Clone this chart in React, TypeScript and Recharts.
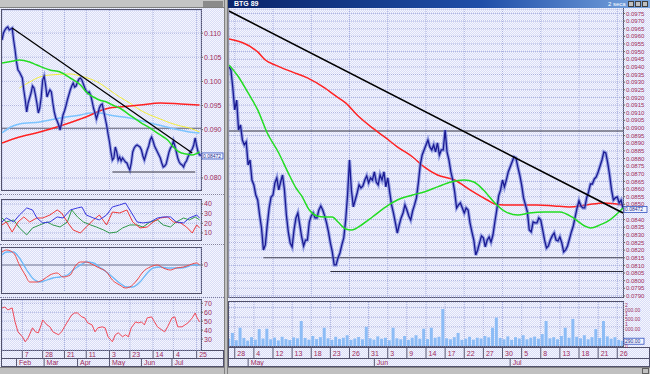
import React from 'react';
import { ComposedChart, Line, Bar, XAxis, YAxis, CartesianGrid, ReferenceLine } from 'recharts';

const FONT = '"Liberation Sans", Arial, sans-serif';
const LBL = '#a02c5c';
const GRID = '#a9b0de';
const NAVY = '#1a1a92';
const HALO = '#6f7dd8';
const RED = '#ff2222';
const GREEN = '#22dd22';
const FRAME = '#50506a';

// ---------- LEFT WINDOW (daily, Feb-Jul) ----------
const leftDateTicks = [14, 28, 43, 58, 74, 88, 104, 118, 134];
const leftDateLabels = ['7', '28', '21', '11', '3', '23', '14', '4', '25'];
const leftMonthTicks = [10, 29, 52, 74, 96, 117];
const leftMonthLabels = ['Feb', 'Mar', 'Apr', 'May', 'Jun', 'Jul'];
const leftPriceTicks = [0.08, 0.09, 0.095, 0.1, 0.105, 0.11];

const leftClose = [
  0.10858, 0.11003, 0.11066, 0.11107, 0.11128, 0.11066, 0.11086, 0.11107, 0.10858, 0.10651,
  0.10402, 0.10237, 0.10195, 0.10133, 0.10071, 0.09822, 0.09615, 0.09366, 0.09553, 0.09657,
  0.0976, 0.09905, 0.09864, 0.09719, 0.09553, 0.09346, 0.09449, 0.09677, 0.10029, 0.10112,
  0.09926, 0.09677, 0.0976, 0.09822, 0.09781, 0.09553, 0.09366, 0.09242, 0.0918, 0.09097,
  0.08993, 0.09138, 0.09304, 0.09387, 0.09491, 0.09615, 0.09719, 0.09822, 0.09905, 0.09967,
  0.09884, 0.09905, 0.09988, 0.1005, 0.10071, 0.10029, 0.09947, 0.09864, 0.09802, 0.0976,
  0.09781, 0.09719, 0.09594, 0.09449, 0.09346, 0.09221, 0.09325, 0.09449, 0.09511, 0.09532,
  0.09387, 0.09242, 0.09097, 0.08911, 0.08745, 0.08538, 0.08372, 0.08413, 0.08641, 0.08538,
  0.08372, 0.08434, 0.08351, 0.08413, 0.08372, 0.0833, 0.0831, 0.08227, 0.08165, 0.0831,
  0.08538, 0.0862, 0.08662, 0.08683, 0.08662, 0.08641, 0.08579, 0.08455, 0.08372, 0.08475,
  0.08579, 0.08662, 0.08786, 0.08848, 0.08765, 0.08662, 0.086, 0.08538, 0.08475, 0.08413,
  0.0831, 0.08227, 0.08247, 0.08289, 0.08413, 0.08538, 0.0862, 0.08662, 0.08765, 0.08662,
  0.08538, 0.08413, 0.0833, 0.08289, 0.08268, 0.08227, 0.0831, 0.08351, 0.08434, 0.08496,
  0.08558, 0.086, 0.08683, 0.08828, 0.08662, 0.08538, 0.08475, 0.08472,
];
const leftGreen: [number, number][] = [
  [0, 0.10382], [8, 0.10423], [12, 0.10444], [19, 0.10402], [24, 0.1034], [33, 0.10237], [40, 0.10195],
  [47, 0.10071], [54, 0.09926], [58, 0.09781], [63, 0.09677], [67, 0.09615], [72, 0.09574], [76, 0.09511],
  [81, 0.09449], [88, 0.09304], [95, 0.09159], [104, 0.08993], [109, 0.0889], [114, 0.08786], [118, 0.08641],
  [122, 0.08538], [127, 0.08496], [131, 0.08475], [136, 0.08538],
];
const leftRed: [number, number][] = [
  [0, 0.08724], [12, 0.08848], [26, 0.08952], [40, 0.09076], [54, 0.09221], [61, 0.09304], [67, 0.09387],
  [74, 0.09449], [81, 0.0947], [95, 0.09511], [109, 0.09553], [123, 0.09532], [136, 0.09511],
];
const leftSky: [number, number][] = [
  [0, 0.08931], [6, 0.09056], [12, 0.09118], [26, 0.09159], [40, 0.09242], [54, 0.09304], [61, 0.09346],
  [67, 0.09346], [74, 0.09304], [88, 0.09242], [102, 0.09138], [116, 0.09035], [129, 0.08952], [136, 0.08931],
];
const leftYellow: [number, number][] = [
  [12, 0.09864], [19, 0.09988], [26, 0.10092], [33, 0.10133], [47, 0.10154], [54, 0.10112], [61, 0.1005],
  [67, 0.09967], [74, 0.09822], [81, 0.09677], [88, 0.09553], [95, 0.09408], [102, 0.09304], [109, 0.09221],
  [116, 0.09138], [123, 0.09076], [129, 0.09035], [136, 0.08952],
];
const leftTrend: [number, number][] = [[7, 0.11107], [131, 0.08517]];
const leftSupport: [number, number][] = [[76, 0.08123], [133, 0.08123]];
const leftLevel = 0.0903;

const dmiBlue: [number, number][] = [
  [0, 21.4], [3, 25.5], [8, 21.4], [12, 28.6], [17, 35.9], [21, 33.8], [24, 25.5], [28, 20.4], [33, 21.4],
  [38, 26.6], [42, 25.5], [47, 33.8], [52, 35.9], [55, 36.9], [58, 28.6], [63, 25.5], [67, 23.5], [72, 28.6],
  [76, 36.9], [81, 39.0], [85, 41.0], [88, 33.8], [93, 21.4], [97, 20.4], [102, 21.4], [107, 25.5], [111, 26.6],
  [116, 26.6], [120, 21.4], [125, 20.4], [129, 25.5], [134, 28.6], [136, 25.5],
];
const dmiRed: [number, number][] = [
  [0, 18.3], [3, 21.4], [7, 11.0], [11, 21.4], [15, 26.6], [19, 21.4], [24, 25.5], [28, 25.5], [33, 28.6],
  [38, 33.8], [41, 30.7], [45, 21.4], [49, 13.1], [54, 10.0], [58, 16.2], [63, 23.5], [67, 28.6], [72, 18.3],
  [76, 31.7], [81, 30.7], [86, 33.8], [90, 21.4], [95, 15.2], [100, 16.2], [104, 21.4], [109, 25.5], [114, 26.6],
  [118, 21.4], [123, 20.4], [127, 16.2], [131, 10.0], [134, 18.3], [136, 15.2],
];
const dmiGreen: [number, number][] = [
  [0, 25.5], [3, 21.4], [8, 23.5], [12, 15.2], [17, 8.0], [21, 15.2], [26, 18.3], [31, 21.4], [35, 18.3],
  [40, 16.2], [45, 21.4], [48, 33.8], [52, 26.6], [56, 21.4], [61, 18.3], [65, 16.2], [70, 13.1], [74, 10.0],
  [79, 11.0], [83, 15.2], [88, 18.3], [93, 18.3], [97, 16.2], [102, 21.4], [107, 23.5], [111, 18.3], [116, 16.2],
  [120, 21.4], [125, 25.5], [129, 23.5], [133, 26.6], [136, 23.5],
];
const dmiTicks = [10, 20, 30, 40];

const macdLine: [number, number][] = [
  [0, 0.0013], [3, 0.0015], [8, 0.0012], [12, 0], [16, -0.001], [19, -0.0017], [24, -0.0017], [28, -0.0015],
  [33, -0.001], [38, -0.0008], [42, -0.0012], [47, -0.001], [50, -0.0002], [54, 0.0003], [58, 0.0003], [63, 0],
  [67, -0.0003], [72, -0.0007], [76, -0.0015], [81, -0.002], [85, -0.0023], [88, -0.0022], [93, -0.0015],
  [97, -0.0007], [102, -0.0002], [107, 0], [111, -0.0003], [116, -0.0005], [120, -0.0003], [125, -0.0002],
  [129, 0], [134, 0.0002], [136, 0],
];
const macdSignal: [number, number][] = [
  [0, 0.001], [3, 0.0013], [8, 0.0013], [12, 0.0007], [17, -0.0005], [21, -0.0013], [26, -0.0017], [31, -0.0015],
  [35, -0.0013], [40, -0.0012], [45, -0.001], [49, -0.0005], [54, 0], [58, 0.0003], [63, 0.0002], [67, -0.0002],
  [72, -0.0007], [76, -0.0012], [81, -0.0018], [86, -0.0022], [90, -0.0022], [95, -0.0017], [100, -0.0008],
  [104, -0.0003], [109, -0.0002], [114, -0.0003], [118, -0.0003], [123, -0.0003], [127, -0.0002], [131, 0], [136, 0],
];

const rsiLine: [number, number][] = [
  [0, 64.8], [2, 65.9], [4, 62.6], [7, 64.8], [9, 49.2], [11, 38.1], [14, 32.6], [16, 27.0], [18, 31.4],
  [21, 42.6], [23, 38.1], [25, 37.0], [27, 45.9], [28, 51.4], [31, 45.9], [33, 43.7], [35, 38.1], [39, 34.8],
  [41, 38.1], [43, 43.7], [45, 49.2], [48, 57.0], [50, 59.2], [52, 59.2], [55, 54.8], [57, 53.7], [59, 48.1],
  [62, 45.9], [64, 38.1], [66, 42.6], [69, 43.7], [71, 42.6], [73, 32.6], [76, 27.0], [78, 34.8], [80, 37.0],
  [83, 32.6], [85, 34.8], [87, 32.6], [89, 42.6], [92, 49.2], [94, 48.1], [96, 49.2], [98, 45.9], [100, 53.7],
  [103, 54.8], [105, 49.2], [107, 43.7], [110, 40.3], [112, 38.1], [114, 43.7], [117, 53.7], [119, 54.8],
  [121, 43.7], [124, 43.7], [126, 45.9], [128, 48.1], [131, 53.7], [133, 59.2], [134, 54.8], [136, 49.2],
];
const rsiTicks = [30, 40, 50, 60, 70];

// ---------- RIGHT WINDOW (intraday, Apr 28 - Jul 26) ----------
const rightDateTicks = [3, 13, 23, 33, 43, 53, 63, 73, 83, 93, 103, 113, 123, 133, 143, 153, 163, 173, 183, 193, 203];
const rightDateLabels = ['28', '4', '12', '13', '18', '23', '26', '31', '3', '9', '14', '17', '22', '27', '30', '5', '8', '13', '18', '21', '26'];
const rightMonthTicks = [10, 76, 147];
const rightMonthLabels = ['May', 'Jun', 'Jul'];
const rightPriceTicks = [
  0.079, 0.0795, 0.08, 0.0805, 0.081, 0.0815, 0.082, 0.0825, 0.083, 0.0835, 0.084, 0.085, 0.0855,
  0.086, 0.0865, 0.087, 0.0875, 0.088, 0.0885, 0.089, 0.0895, 0.09, 0.0905, 0.091, 0.0915, 0.092, 0.0925,
  0.093, 0.0935, 0.094, 0.0945, 0.095, 0.0955, 0.096, 0.0965, 0.097, 0.0975,
];

const rightClose = [
  0.094, 0.0938, 0.09262, 0.09118, 0.09183, 0.08987, 0.0902, 0.08921, 0.08889, 0.08908,
  0.08758, 0.0879, 0.08659, 0.08627, 0.08561, 0.08528, 0.0843, 0.08345, 0.08201, 0.08234,
  0.08365, 0.08476, 0.08548, 0.08561, 0.0864, 0.08673, 0.08594, 0.08646, 0.08692, 0.08594,
  0.0843, 0.08319, 0.08247, 0.08221, 0.08332, 0.08411, 0.08443, 0.08365, 0.08286, 0.08227,
  0.08266, 0.08266, 0.08384, 0.08424, 0.08443, 0.08411, 0.08411, 0.08463, 0.08489, 0.08463,
  0.08424, 0.08378, 0.08319, 0.08247, 0.08188, 0.08103, 0.08103, 0.08149, 0.08181, 0.08234,
  0.0828, 0.08397, 0.08561, 0.0879, 0.08594, 0.08483, 0.08528, 0.08574, 0.08627, 0.08607,
  0.0862, 0.08659, 0.08686, 0.0864, 0.08673, 0.08659, 0.08712, 0.08646, 0.08627, 0.08692,
  0.08659, 0.08712, 0.08614, 0.08673, 0.08581, 0.08496, 0.08443, 0.08378, 0.08312, 0.08365,
  0.08411, 0.08443, 0.08496, 0.08463, 0.08424, 0.08397, 0.08456, 0.08496, 0.08542, 0.0864,
  0.08758, 0.08823, 0.08856, 0.08889, 0.08921, 0.08876, 0.08856, 0.08889, 0.08843, 0.08902,
  0.08823, 0.08856, 0.08856, 0.08987, 0.08843, 0.0879, 0.08712, 0.08659, 0.08581, 0.08476,
  0.08496, 0.08509, 0.08476, 0.08443, 0.08476, 0.08463, 0.08378, 0.08319, 0.08266, 0.08168,
  0.08201, 0.08247, 0.08293, 0.0828, 0.08221, 0.08266, 0.08286, 0.08253, 0.08299, 0.08384,
  0.08463, 0.08555, 0.08594, 0.08659, 0.08614, 0.08659, 0.08712, 0.08745, 0.08777, 0.0881,
  0.08804, 0.08745, 0.08692, 0.08627, 0.08542, 0.08496, 0.0845, 0.08332, 0.08319, 0.08384,
  0.08378, 0.08378, 0.08411, 0.08397, 0.08332, 0.08266, 0.08214, 0.08227, 0.08266, 0.08293,
  0.08312, 0.08266, 0.0826, 0.08286, 0.08247, 0.08188, 0.08201, 0.08227, 0.08273, 0.08319,
  0.08358, 0.08417, 0.08476, 0.08522, 0.08489, 0.08476, 0.08476, 0.08542, 0.08581, 0.08633,
  0.08633, 0.08666, 0.08679, 0.08712, 0.08751, 0.0879, 0.08843, 0.08836, 0.08771, 0.08692,
  0.08594, 0.08528, 0.08542, 0.08548, 0.08509, 0.08528, 0.08472,
];
const rightRed: [number, number][] = [
  [0, 0.09583], [15, 0.09498], [19, 0.09445], [24, 0.09413], [33, 0.09367], [41, 0.09328], [50, 0.09262],
  [55, 0.09216], [61, 0.09164], [67, 0.09085], [75, 0.09], [82, 0.08935], [88, 0.08876], [96, 0.0881],
  [102, 0.08745], [109, 0.08692], [118, 0.08659], [126, 0.08594], [135, 0.08528], [139, 0.08502],
  [144, 0.08496], [152, 0.08496], [161, 0.08496], [170, 0.08489], [178, 0.08483], [187, 0.08496],
  [196, 0.08509], [206, 0.08496],
];
const rightGreen: [number, number][] = [
  [0, 0.09413], [5, 0.09334], [10, 0.09229], [15, 0.09118], [20, 0.08967], [26, 0.08836], [31, 0.08705],
  [35, 0.08607], [38, 0.08555], [42, 0.08463], [46, 0.08424], [50, 0.08417], [54, 0.08417], [57, 0.08384],
  [61, 0.08338], [64, 0.08332], [70, 0.08371], [75, 0.08417], [82, 0.08483], [88, 0.08528], [96, 0.08561],
  [102, 0.08581], [109, 0.08614], [116, 0.08646], [123, 0.08659], [128, 0.08646], [133, 0.08594],
  [139, 0.08509], [144, 0.08456], [151, 0.0843], [157, 0.08443], [165, 0.0845], [173, 0.0845], [180, 0.08411],
  [186, 0.08358], [189, 0.08345], [194, 0.08365], [199, 0.08397], [206, 0.08476],
];
const rightTrend: [number, number][] = [[0, 0.09766], [206, 0.08443]];
const rightSupportA: [number, number][] = [[18, 0.0815], [206, 0.0815]];
const rightSupportB: [number, number][] = [[53, 0.0806], [206, 0.0806]];
const rightLevel = 0.0898;
const lastClose = 0.08472;

const volume = [
  380, 680, 300, 950, 420, 280, 460, 330, 880, 390, 900, 350, 440, 290, 480, 360, 310, 450, 400, 1300,
  420, 330, 520, 360, 460, 950, 400, 320, 480, 370, 430, 560, 320, 390, 470, 350, 1000, 400, 330, 500,
  380, 430, 300, 950, 400, 350, 520, 320, 430, 560, 380, 900, 360, 950, 430, 480, 1925, 400, 350, 460,
  680, 320, 380, 480, 330, 430, 390, 520, 450, 950, 1480, 420, 350, 500, 320, 460, 390, 560, 350, 430,
  490, 380, 620, 1300, 400, 460, 350, 520, 950, 430, 1410, 480, 400, 560, 350, 460, 880, 420, 1300, 500,
  380, 460, 320, 260,
];
const volumeTicks = [0, 1000, 1500, 2000];
const lastVolume = 290;

// ---------- helpers ----------
const pts = (a: [number, number][]) => a.map(([i, v]) => ({ i, v }));
const seq = (a: number[], step = 1) => a.map((v, k) => ({ i: k * step, v }));
const M = { top: 0, right: 0, bottom: 0, left: 0 };
const tickStyle = { fontSize: 7, fill: LBL, fontFamily: FONT };

const mkTick = (labels: string[], ticks: number[], y0: number, y1: number, ty: number) => (p: any) => {
  const k = ticks.indexOf(p.payload.value);
  return (
    <g>
      <line x1={p.x} x2={p.x} y1={p.y + y0} y2={p.y + y1} stroke="#5a5a74" strokeWidth={1} />
      <text x={p.x + 2.5} y={p.y + ty} fontSize={7} fill={LBL} fontFamily={FONT}>{labels[k]}</text>
    </g>
  );
};

const ValueBox = (props: any) => {
  const { viewBox, text, w } = props;
  if (!viewBox) return null;
  const x = viewBox.x + viewBox.width + 1;
  return (
    <g>
      <rect x={x} y={viewBox.y - 2.2} width={w} height={6} fill="#f3f5ff" stroke="#3050c0" strokeWidth={0.8} />
      <text x={x + 1} y={viewBox.y + 2.6} fontSize={5} fill="#1a2a8a" fontFamily={FONT}>{text}</text>
    </g>
  );
};

const box = (l: number, t: number, w: number, h: number, extra: any = {}) => (
  <div style={{ position: 'absolute', left: l, top: t, width: w, height: h, boxSizing: 'border-box', ...extra }} />
);

const volFmt = (v: number) => (v === 0 ? '0' : `${Math.floor(v / 1000)} ${String(v % 1000).padStart(3, '0')}.00`);

export default function App() {
  const checker = {
    backgroundImage: 'repeating-conic-gradient(#d9ddf6 0% 25%, #f5f6fe 0% 50%)',
    backgroundSize: '2px 2px',
  };
  return (
    <div style={{ position: 'fixed', left: 0, top: 0, width: 650, height: 374, overflow: 'hidden', background: '#e6e9f8', ...checker, fontFamily: FONT }}>
      {/* window chrome */}
      {box(0, 0, 225, 8, { background: '#c4c4c4', borderBottom: '1px solid #808080' })}
      {box(203, 1, 20, 6, { background: '#8a8a8a' })}
      {box(224, 0, 4, 374, { background: '#c0c0c0', borderLeft: '1px solid #808080', borderRight: '1px solid #808080' })}
      {box(228, 0, 422, 8, { background: 'linear-gradient(90deg,#0a246a 0%,#1f4ea8 60%,#7aa6e0 100%)' })}
      <div style={{ position: 'absolute', left: 234, top: 0, fontSize: 7, lineHeight: '8px', color: '#fff', fontWeight: 'bold' }}>BTG 89</div>
      <div style={{ position: 'absolute', left: 608, top: 0, fontSize: 6, lineHeight: '8px', color: '#fff' }}>2 seca</div>
      {box(628, 1, 6, 6, { background: '#c0c0c0', border: '1px solid #404040' })}
      {box(635, 1, 6, 6, { background: '#c0c0c0', border: '1px solid #404040' })}
      {box(642, 1, 6, 6, { background: '#c0c0c0', border: '1px solid #404040' })}
      {box(0, 367, 224, 7, { background: '#c0c0c0', borderTop: '1px solid #808080' })}
      {box(228, 367, 422, 7, { background: '#c0c0c0', borderTop: '1px solid #808080' })}
      {box(642, 368, 7, 6, { background: '#c0c0c0', border: '1px solid #606060' })}

      {/* left panel frames */}
      {box(1, 9, 201, 182, { border: `1px solid ${FRAME}` })}
      {box(0, 194, 224, 1, { borderTop: '1px dotted #8080a0' })}
      {box(1, 199, 201, 42, { border: `1px solid ${FRAME}` })}
      {box(0, 244, 224, 1, { borderTop: '1px dotted #8080a0' })}
      {box(1, 247, 201, 47, { border: `1px solid ${FRAME}` })}
      {box(0, 297, 224, 1, { borderTop: '1px dotted #8080a0' })}
      {box(1, 299, 201, 52, { border: `1px solid ${FRAME}` })}
      {box(1, 350, 223, 9, { border: `1px solid ${FRAME}` })}
      {box(1, 358, 223, 9, { border: `1px solid ${FRAME}` })}

      {/* right panel frames */}
      {box(228, 8, 396, 290, { borderRight: `1px solid ${FRAME}`, borderBottom: `1px solid ${FRAME}`, borderLeft: '1px solid #9090a0' })}
      {box(228, 301, 396, 46, { border: `1px solid ${FRAME}` })}
      {box(228, 347, 422, 12, { border: `1px solid ${FRAME}` })}
      {box(228, 358, 422, 9, { border: `1px solid ${FRAME}` })}

      {/* LEFT MAIN PRICE */}
      <div style={{ position: 'absolute', left: 2, top: 10 }}>
        <ComposedChart width={223} height={180} margin={M}>
          <CartesianGrid stroke={GRID} strokeDasharray="1 1" />
          <XAxis type="number" dataKey="i" domain={[0, 137]} ticks={leftDateTicks} hide allowDataOverflow />
          <YAxis orientation="right" type="number" domain={[0.0775, 0.1148]} ticks={leftPriceTicks} width={24}
            allowDataOverflow axisLine={false} tickSize={2} tickMargin={1} tickLine={{ stroke: '#666' }}
            tick={tickStyle} tickFormatter={(v: number) => v.toFixed(3)} interval={0} />
          <ReferenceLine y={leftLevel} stroke="#5a5a70" />
          <Line data={pts(leftYellow)} dataKey="v" type="monotone" stroke="#f2ee3a" strokeWidth={1} dot={false} isAnimationActive={false} />
          <Line data={pts(leftSky)} dataKey="v" type="monotone" stroke="#7cc4ff" strokeWidth={1.5} dot={false} isAnimationActive={false} />
          <Line data={pts(leftRed)} dataKey="v" type="monotone" stroke={RED} strokeWidth={1.5} dot={false} isAnimationActive={false} />
          <Line data={seq(leftClose)} dataKey="v" type="linear" stroke={HALO} strokeWidth={3.2} strokeOpacity={0.65} dot={false} isAnimationActive={false} />
          <Line data={seq(leftClose)} dataKey="v" type="linear" stroke={NAVY} strokeWidth={1.2} dot={false} isAnimationActive={false} />
          <Line data={pts(leftGreen)} dataKey="v" type="monotone" stroke={GREEN} strokeWidth={1.5} dot={false} isAnimationActive={false} />
          <Line data={pts(leftTrend)} dataKey="v" type="linear" stroke="#000" strokeWidth={1.3} dot={false} isAnimationActive={false} />
          <Line data={pts(leftSupport)} dataKey="v" type="linear" stroke="#303040" strokeWidth={1} dot={false} isAnimationActive={false} />
          <ReferenceLine y={lastClose} strokeOpacity={0} label={<ValueBox text="0.08472" w={21} />} />
        </ComposedChart>
      </div>

      {/* LEFT DMI */}
      <div style={{ position: 'absolute', left: 2, top: 200 }}>
        <ComposedChart width={223} height={39} margin={M}>
          <CartesianGrid stroke={GRID} strokeDasharray="1 1" />
          <XAxis type="number" dataKey="i" domain={[0, 137]} ticks={leftDateTicks} hide allowDataOverflow />
          <YAxis orientation="right" type="number" domain={[3.8, 44.1]} ticks={dmiTicks} width={24} allowDataOverflow
            axisLine={false} tickSize={2} tickMargin={1} tickLine={{ stroke: '#666' }} tick={tickStyle} interval={0} />
          <Line data={pts(dmiGreen)} dataKey="v" type="linear" stroke="#2f9a4a" strokeWidth={1} dot={false} isAnimationActive={false} />
          <Line data={pts(dmiRed)} dataKey="v" type="linear" stroke="#f03a3a" strokeWidth={1} dot={false} isAnimationActive={false} />
          <Line data={pts(dmiBlue)} dataKey="v" type="linear" stroke="#3a3ae0" strokeWidth={1} dot={false} isAnimationActive={false} />
        </ComposedChart>
      </div>

      {/* LEFT MACD */}
      <div style={{ position: 'absolute', left: 2, top: 248 }}>
        <ComposedChart width={223} height={44} margin={M}>
          <CartesianGrid stroke={GRID} strokeDasharray="1 1" horizontal={false} />
          <XAxis type="number" dataKey="i" domain={[0, 137]} ticks={leftDateTicks} hide allowDataOverflow />
          <YAxis orientation="right" type="number" domain={[-0.0027, 0.0017]} ticks={[0]} width={24} allowDataOverflow
            axisLine={false} tickSize={2} tickMargin={1} tickLine={{ stroke: '#666' }} tick={tickStyle} interval={0} />
          <ReferenceLine y={0} stroke="#6a7090" />
          <Line data={pts(macdSignal)} dataKey="v" type="monotone" stroke="#6cb8f8" strokeWidth={1.3} dot={false} isAnimationActive={false} />
          <Line data={pts(macdLine)} dataKey="v" type="monotone" stroke="#f04848" strokeWidth={1} dot={false} isAnimationActive={false} />
        </ComposedChart>
      </div>

      {/* LEFT RSI + date axes */}
      <div style={{ position: 'absolute', left: 2, top: 300 }}>
        <ComposedChart width={223} height={66} margin={M}>
          <CartesianGrid stroke={GRID} strokeDasharray="1 1" xAxisId="d" />
          <XAxis xAxisId="d" type="number" dataKey="i" domain={[0, 137]} ticks={leftDateTicks} height={8} interval={0}
            allowDataOverflow axisLine={false} tickLine={false} tickSize={0} tickMargin={0}
            tick={mkTick(leftDateLabels, leftDateTicks, 1, 8, 6.5)} />
          <XAxis xAxisId="m" type="number" dataKey="i" domain={[0, 137]} ticks={leftMonthTicks} height={8} interval={0}
            allowDataOverflow axisLine={false} tickLine={false} tickSize={0} tickMargin={0}
            tick={mkTick(leftMonthLabels, leftMonthTicks, 0, 8, 6.5)} />
          <YAxis orientation="right" type="number" domain={[17.8, 73.7]} ticks={rsiTicks} width={24} allowDataOverflow
            axisLine={false} tickSize={2} tickMargin={1} tickLine={{ stroke: '#666' }} tick={tickStyle} interval={0} />
          <Line xAxisId="d" data={pts(rsiLine)} dataKey="v" type="linear" stroke="#f04858" strokeWidth={1} dot={false} isAnimationActive={false} />
        </ComposedChart>
      </div>

      {/* RIGHT MAIN PRICE */}
      <div style={{ position: 'absolute', left: 229, top: 9 }}>
        <ComposedChart width={421} height={292} margin={{ top: 0, right: 0, bottom: 4, left: 0 }}>
          <CartesianGrid stroke={GRID} strokeDasharray="1 1" />
          <XAxis type="number" dataKey="i" domain={[0, 206]} ticks={rightDateTicks} hide allowDataOverflow />
          <YAxis orientation="right" type="number" domain={[0.07893, 0.09779]} ticks={rightPriceTicks} width={27}
            allowDataOverflow axisLine={false} tickSize={2} tickMargin={1} tickLine={{ stroke: '#666' }}
            tick={{ ...tickStyle, fontSize: 6 }} tickFormatter={(v: number) => v.toFixed(4)} interval={0} />
          <ReferenceLine y={rightLevel} stroke="#303040" />
          <Line data={pts(rightSupportA)} dataKey="v" type="linear" stroke="#404050" strokeWidth={1} dot={false} isAnimationActive={false} />
          <Line data={pts(rightSupportB)} dataKey="v" type="linear" stroke="#303040" strokeWidth={1.2} dot={false} isAnimationActive={false} />
          <Line data={pts(rightRed)} dataKey="v" type="monotone" stroke={RED} strokeWidth={1.5} dot={false} isAnimationActive={false} />
          <Line data={seq(rightClose)} dataKey="v" type="linear" stroke={HALO} strokeWidth={3.5} strokeOpacity={0.65} dot={false} isAnimationActive={false} />
          <Line data={seq(rightClose)} dataKey="v" type="linear" stroke={NAVY} strokeWidth={1.3} dot={false} isAnimationActive={false} />
          <Line data={pts(rightGreen)} dataKey="v" type="monotone" stroke={GREEN} strokeWidth={1.5} dot={false} isAnimationActive={false} />
          <Line data={pts(rightTrend)} dataKey="v" type="linear" stroke="#000" strokeWidth={1.6} dot={false} isAnimationActive={false} />
          <ReferenceLine y={lastClose} strokeOpacity={0} label={<ValueBox text="0.08472" w={23} />} />
        </ComposedChart>
      </div>

      {/* RIGHT VOLUME + date axes */}
      <div style={{ position: 'absolute', left: 229, top: 302 }}>
        <ComposedChart width={421} height={64} margin={M} data={seq(volume, 2)}>
          <CartesianGrid stroke={GRID} strokeDasharray="1 1" xAxisId="d" />
          <XAxis xAxisId="d" type="number" dataKey="i" domain={[0, 206]} ticks={rightDateTicks} height={12} interval={0}
            allowDataOverflow axisLine={false} tickLine={false} tickSize={0} tickMargin={0}
            tick={mkTick(rightDateLabels, rightDateTicks, 2, 12, 10)} />
          <XAxis xAxisId="m" type="number" dataKey="i" domain={[0, 206]} ticks={rightMonthTicks} height={8} interval={0}
            allowDataOverflow axisLine={false} tickLine={false} tickSize={0} tickMargin={0}
            tick={mkTick(rightMonthLabels, rightMonthTicks, 0, 8, 6.5)} />
          <YAxis orientation="right" type="number" domain={[0, 2290]} ticks={volumeTicks} width={27} allowDataOverflow
            axisLine={false} tickSize={1} tickMargin={1} tickLine={{ stroke: '#666' }} tick={{ ...tickStyle, fontSize: 5 }}
            tickFormatter={volFmt} interval={0} />
          <Bar xAxisId="d" dataKey="v" fill="#8cbcf6" barSize={3} isAnimationActive={false} />
          <ReferenceLine xAxisId="d" y={lastVolume} strokeOpacity={0} label={<ValueBox text="290.00" w={20} />} />
        </ComposedChart>
      </div>
    </div>
  );
}
